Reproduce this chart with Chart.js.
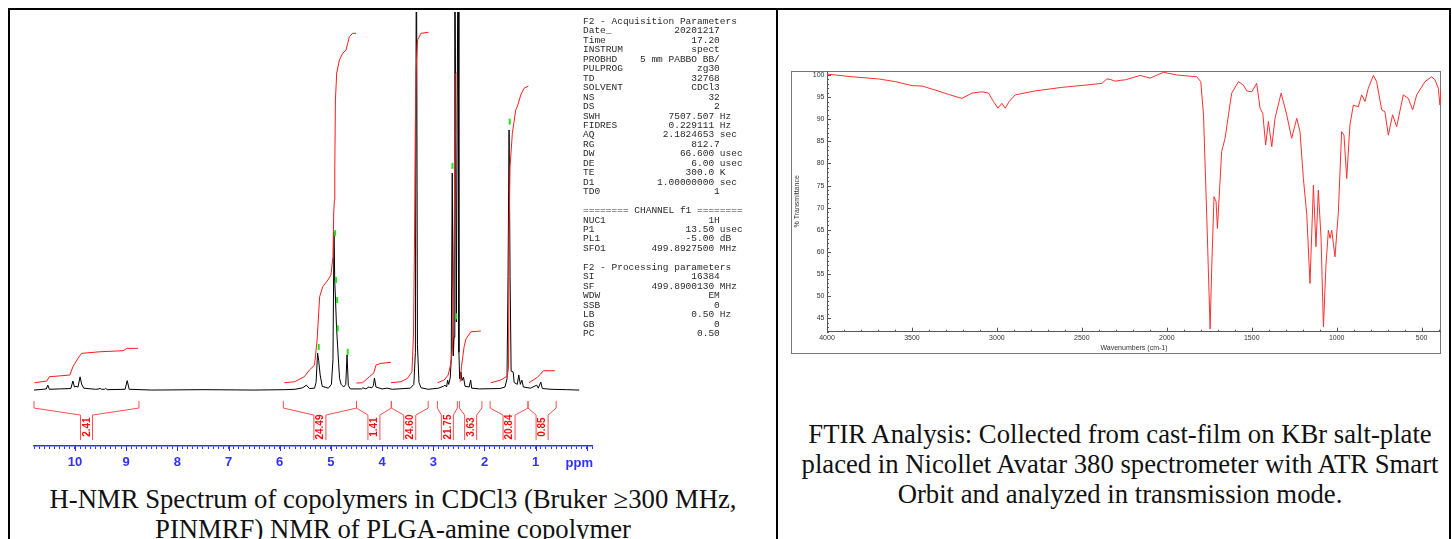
<!DOCTYPE html>
<html>
<head>
<meta charset="utf-8">
<title>PLGA-amine copolymer: 1H NMR and FTIR</title>
<script src="https://cdn.jsdelivr.net/npm/chart.js@4.4.1/dist/chart.umd.min.js"></script>
<style>
  html, body { margin: 0; padding: 0; background: #fff; }
  body { width: 1452px; height: 539px; position: relative; overflow: hidden; }
  .rule { position: absolute; background: #000; }
  #nmrChart { position: absolute; left: 20px; top: 0; }
  #params { position: absolute; left: 583px; top: 17px; margin: 0; font: 9.5px/9.45px "Liberation Mono", "Courier New", monospace; color: #2a2a2a; }
  #irFrame { position: absolute; left: 791px; top: 71px; width: 650px; height: 283px; box-sizing: border-box; border: 1px solid #777; }
  #irChart { position: absolute; left: 791px; top: 71px; }
  .cap { position: absolute; font-family: "Liberation Serif", "Times New Roman", serif; font-size: 26.7px; line-height: 30px; text-align: center; color: #111; white-space: nowrap; }
</style>
</head>
<body>
<div class="rule" style="left:8px;top:8px;width:1443px;height:2px"></div>
<div class="rule" style="left:8px;top:8px;width:2px;height:531px"></div>
<div class="rule" style="left:776px;top:8px;width:2px;height:531px"></div>
<div class="rule" style="left:1449px;top:8px;width:2px;height:531px"></div>

<canvas id="nmrChart" width="590" height="480"></canvas>
<pre id="params"></pre>

<div id="irFrame"></div>
<canvas id="irChart" width="650" height="283"></canvas>

<div class="cap" style="left:9px;width:768px;top:484px">H-NMR Spectrum of copolymers in CDCl3 (Bruker &#8805;300 MHz,<br>PINMRF) NMR of PLGA-amine copolymer</div>
<div class="cap" style="left:778px;width:684px;top:419px">FTIR Analysis: Collected from cast-film on KBr salt-plate<br>placed in Nicollet Avatar 380 spectrometer with ATR Smart<br>Orbit and analyzed in transmission mode.</div>

<script>
// ---- 1H NMR spectrum (ppm, intensity as % of plot height)
const nmrPpm = [10.80, 10.62, 10.56, 10.53, 10.50, 10.30, 10.08, 10.04, 10.01, 9.98,
  9.94, 9.90, 9.87, 9.83, 9.60, 9.53, 9.51, 9.48, 9.42, 9.40,
  9.37, 9.02, 8.98, 8.94, 8.50, 7.50, 6.50, 5.90, 5.70, 5.55,
  5.48, 5.42, 5.32, 5.29, 5.26, 5.24, 5.21, 5.17, 5.05, 4.99,
  4.96, 4.94, 4.925, 4.91, 4.89, 4.87, 4.85, 4.83, 4.80, 4.75,
  4.71, 4.685, 4.66, 4.62, 4.40, 4.375, 4.32, 4.26, 4.20, 4.17,
  4.15, 4.12, 4.00, 3.90, 3.80, 3.45, 3.38, 3.35, 3.33, 3.31,
  3.28, 3.24, 3.10, 2.90, 2.80, 2.77, 2.74, 2.72, 2.70, 2.67,
  2.65, 2.63, 2.61, 2.595, 2.58, 2.55, 2.515, 2.50, 2.485, 2.46,
  2.44, 2.41, 2.38, 2.30, 2.27, 2.25, 2.10, 1.70, 1.60, 1.56,
  1.54, 1.52, 1.50, 1.48, 1.44, 1.42, 1.36, 1.33, 1.30, 1.27,
  1.24, 1.10, 0.98, 0.95, 0.90, 0.87, 0.70, 0.40, 0.15];
const nmrInt = [0, 0.2, 0.3, 1.3, 0.2, 0.3, 0.4, 2.4, 0.8, 1.0,
  0.8, 3.5, 1.6, 0.5, 0.2, 0.3, 0.45, 0.2, 0.2, 0.45,
  0.1, 0.2, 2.5, 0.2, 0, 0.1, 0, 0.1, 0.2, 0.6,
  1.3, 0.4, 0.5, 2.0, 9.8, 7.9, 4.0, 1.0, 0.5, 1.5,
  8.0, 41.8, 28.6, 23.8, 16.4, 11.9, 7.1, 3.0, 1.5, 0.8,
  1.5, 9.3, 1.2, 0.3, 0.3, 0.6, 0.3, 0.8, 0.6, 1.2,
  3.2, 0.8, 0.3, 0.5, 0.2, 0.5, 1.5, 10, 130, 12,
  2, 0.6, 0.2, 0.5, 1.0, 1.3, 0.8, 2.6, 1.5, 3.2,
  8, 57.4, 9, 14, 130, 18, 130, 10, 3, 4.8,
  2.5, 3.4, 1.0, 0.8, 2.6, 0.5, 0.3, 0.4, 0.8, 3,
  30, 68.8, 30, 5, 4.8, 2.0, 1.5, 4.0, 1.5, 2.6,
  0.8, 0.5, 1.3, 0.5, 2.1, 0.4, 0.2, 0.1, 0];

// integral curves, one list per integrated region
const integralPpm = [
  [10.79, 10.55, 10.50, 10.10, 10.04, 10.00, 9.94, 9.87, 9.51, 9.06, 8.98, 8.77],
  [5.91, 5.71, 5.52, 5.42, 5.32, 5.27, 5.22, 5.16, 5.06, 5.00, 4.96, 4.945, 4.932, 4.924, 4.912, 4.887, 4.834, 4.770, 4.704, 4.673, 4.639, 4.575, 4.509],
  [4.503, 4.380, 4.250, 4.166, 4.119, 4.022, 3.827],
  [3.827, 3.632, 3.503, 3.417, 3.386, 3.366, 3.353, 3.333, 3.308, 3.242, 3.094],
  [2.918, 2.788, 2.710, 2.671, 2.645, 2.626, 2.593, 2.573, 2.560, 2.544],
  [2.476, 2.450, 2.398, 2.365, 2.267, 2.072],
  [1.877, 1.682, 1.553, 1.530, 1.520, 1.501, 1.456, 1.390, 1.359, 1.292, 1.228, 1.144],
  [1.131, 0.969, 0.903, 0.852, 0.624]
];
const integralVal = [
  [1.93, 2.38, 3.52, 3.97, 6.16, 7.06, 8.39, 9.71, 10.13, 10.40, 11.03, 11.03],
  [1.93, 2.20, 3.52, 5.29, 6.61, 13.23, 24.68, 27.33, 29.10, 30.42, 35.26, 46.83, 50.26, 58.99, 76.72, 83.86, 87.30, 89.07, 89.95, 91.72, 93.47, 94.37, 94.37],
  [1.85, 1.93, 3.52, 4.42, 6.61, 7.06, 7.33],
  [1.93, 2.20, 3.10, 4.84, 15.08, 41.53, 67.99, 85.53, 92.59, 94.37, 94.63],
  [1.93, 2.65, 3.97, 6.16, 8.81, 10.58, 41.53, 67.99, 83.78, 83.86],
  [2.20, 6.16, 11.46, 13.41, 15.42, 15.61],
  [1.93, 2.65, 3.70, 6.16, 41.45, 59.07, 67.91, 74.07, 74.95, 78.04, 79.81, 80.42],
  [1.93, 3.36, 4.23, 5.11, 5.11]
];

// integration ranges (ppm) and printed integral values
const intRanges = [[10.80, 8.75], [5.93, 4.50], [4.50, 3.82], [3.82, 3.10], [2.92, 2.53], [2.49, 2.05], [1.89, 1.15], [1.15, 0.60]];
const intLabels = ['2.41', '24.49', '1.41', '24.60', '21.75', '3.63', '20.84', '0.85'];

// peak-picking marks
const pickPpm = [5.238, 4.918, 4.899, 4.879, 4.867, 4.672, 2.626, 2.55, 1.507];
const pickInt = [11.4, 41.5, 29.1, 23.8, 16.3, 10.1, 59.3, 19.5, 71.0];

const nmrTickLabels = [10, 9, 8, 7, 6, 5, 4, 3, 2, 1];

// acquisition / processing parameters  [name, value, unit]
const acqParams = [
  ['Date_', '20201217'], ['Time', '17.20'], ['INSTRUM', 'spect'], ['PROBHD', '5 mm PABBO BB/'],
  ['PULPROG', 'zg30'], ['TD', '32768'], ['SOLVENT', 'CDCl3'], ['NS', '32'], ['DS', '2'],
  ['SWH', '7507.507', 'Hz'], ['FIDRES', '0.229111', 'Hz'], ['AQ', '2.1824653', 'sec'], ['RG', '812.7'],
  ['DW', '66.600', 'usec'], ['DE', '6.00', 'usec'], ['TE', '300.0', 'K'], ['D1', '1.00000000', 'sec'], ['TD0', '1']
];
const chanParams = [['NUC1', '1H'], ['P1', '13.50', 'usec'], ['PL1', '-5.00', 'dB'], ['SFO1', '499.8927500', 'MHz']];
const procParams = [['SI', '16384'], ['SF', '499.8900130', 'MHz'], ['WDW', 'EM'], ['SSB', '0'], ['LB', '0.50', 'Hz'], ['GB', '0'], ['PC', '0.50']];

// ---- FTIR (wavenumber cm-1, % transmittance)
const irWn = [4000, 3853, 3696, 3598, 3500, 3441, 3363, 3284, 3206, 3147,
  3088, 3049, 3020, 2994, 2971, 2951, 2928, 2892, 2775, 2618,
  2480, 2382, 2353, 2333, 2304, 2270, 2245, 2157, 2098, 2020,
  1941, 1824, 1800, 1784, 1765, 1745, 1735, 1722, 1710, 1702,
  1690, 1677, 1657, 1637, 1618, 1578, 1549, 1529, 1500, 1471,
  1451, 1435, 1418, 1402, 1382, 1363, 1327, 1294, 1265, 1235,
  1216, 1196, 1176, 1157, 1137, 1122, 1108, 1092, 1078, 1063,
  1049, 1039, 1029, 1010, 990, 971, 957, 941, 922, 902,
  873, 853, 833, 814, 784, 765, 735, 716, 696, 671,
  647, 608, 578, 553, 529, 480, 441, 421, 402, 392, 386];
const irT = [100.2, 99.6, 99.1, 98.5, 97.6, 97.5, 96.6, 95.6, 94.7, 95.9,
  96.2, 95.9, 94.0, 92.5, 93.6, 92.5, 94.0, 95.5, 96.4, 97.2,
  97.7, 98.1, 99.1, 99.0, 98.6, 98.8, 98.9, 99.9, 99.3, 100.6,
  100.0, 99.6, 98.5, 91.0, 68.4, 42.6, 57.0, 72.5, 71.4, 65.3,
  73.6, 82.7, 85.7, 91.0, 95.9, 98.5, 97.7, 96.4, 96.2, 98.1,
  92.5, 91.3, 84.2, 89.5, 83.8, 90.2, 95.9, 91.0, 85.7, 90.2,
  87.2, 76.6, 68.4, 52.9, 75.1, 61.2, 74.0, 63.1, 43.1, 57.0,
  64.9, 63.1, 64.9, 58.9, 69.1, 87.2, 86.4, 76.6, 88.7, 93.2,
  92.8, 95.5, 94.0, 97.0, 99.9, 98.5, 92.1, 91.7, 86.4, 91.0,
  88.3, 95.5, 94.7, 92.1, 95.5, 98.5, 99.6, 98.9, 97.0, 93.2, 96.6];
const irXLabels = [4000, 3500, 3000, 2500, 2000, 1500, 1000, 500];
const irYLabels = [100, 95, 90, 85, 80, 75, 70, 65, 60, 55, 50, 45];

// parameter block, Bruker style columns
function paramRow(p) {
  const [name, val, unit] = p;
  if (unit) return name + ' '.repeat(Math.max(1, 23 - name.length - val.length)) + val + ' ' + unit;
  return name + ' '.repeat(Math.max(1, 24 - name.length - val.length)) + val;
}
document.getElementById('params').textContent = [
  'F2 - Acquisition Parameters', ...acqParams.map(paramRow), '',
  '======== CHANNEL f1 ========', ...chanParams.map(paramRow), '',
  'F2 - Processing parameters', ...procParams.map(paramRow)
].join('\n');

const xy = (xs, ys) => xs.map((v, i) => ({x: v, y: ys[i]}));
const BLUE = '#3030ff';

const nmrExtras = {
  id: 'nmrExtras',
  afterDraw(chart) {
    const {ctx, chartArea: area, scales: {x, y}} = chart;
    const base = y.getPixelForValue(0);
    ctx.save();
    // integral brackets + values
    ctx.strokeStyle = '#ff4d4d';
    ctx.lineWidth = 1;
    intRanges.forEach((r, i) => {
      const x1 = x.getPixelForValue(r[0]), x2 = x.getPixelForValue(r[1]);
      const mid = (x1 + x2) / 2;
      ctx.beginPath();
      ctx.moveTo(x1, base + 11); ctx.lineTo(x1, base + 18);
      ctx.lineTo(mid - 6, base + 25); ctx.lineTo(mid - 6, base + 50);
      ctx.moveTo(mid + 6, base + 50); ctx.lineTo(mid + 6, base + 25);
      ctx.lineTo(x2, base + 18); ctx.lineTo(x2, base + 11);
      ctx.stroke();
      ctx.save();
      ctx.translate(mid + 0.5, base + 37);
      ctx.rotate(-Math.PI / 2);
      ctx.fillStyle = '#f01010';
      ctx.font = 'bold 10px "Liberation Sans", Arial, sans-serif';
      ctx.textAlign = 'center';
      ctx.textBaseline = 'middle';
      ctx.fillText(intLabels[i], 0, 0);
      ctx.restore();
    });
    // longer ticks at whole ppm
    ctx.strokeStyle = BLUE;
    x.ticks.forEach(t => {
      if (!nmrTickLabels.includes(t.value) && t.value !== 0) return;
      const px = Math.round(x.getPixelForValue(t.value)) + 0.5;
      ctx.beginPath(); ctx.moveTo(px, area.bottom); ctx.lineTo(px, area.bottom + 5); ctx.stroke();
    });
    ctx.fillStyle = BLUE;
    ctx.font = 'bold 13px "Liberation Sans", Arial, sans-serif';
    ctx.textAlign = 'right';
    ctx.textBaseline = 'middle';
    ctx.fillText('ppm', area.right + 1, area.bottom + 17);
    ctx.restore();
  }
};

const nmrSets = [{
  data: xy(nmrPpm, nmrInt), borderColor: '#000', borderWidth: 1, pointRadius: 0, order: 3
}];
integralPpm.forEach((p, i) => nmrSets.push({
  data: xy(p, integralVal[i]), borderColor: '#ff1a1a', borderWidth: 1, pointRadius: 0, order: 2
}));
nmrSets.push({
  data: xy(pickPpm, pickInt), showLine: false, pointStyle: 'line', rotation: 90, pointRadius: 3,
  pointBorderColor: '#22e022', pointBorderWidth: 2, order: 1
});

new Chart(document.getElementById('nmrChart'), {
  type: 'line',
  data: { datasets: nmrSets },
  options: {
    responsive: false, animation: false, events: [],
    layout: { padding: { left: 14, right: 18, top: 12, bottom: 0 } },
    plugins: { legend: { display: false }, tooltip: { enabled: false } },
    scales: {
      x: {
        type: 'linear', reverse: true, min: -0.1, max: 10.8,
        afterFit: s => { s.height = 34; s.paddingLeft = 0; s.paddingRight = 0; },
        border: { color: BLUE, width: 1.5 },
        grid: { drawOnChartArea: false, drawTicks: true, tickLength: 3, tickColor: BLUE, tickWidth: 1 },
        ticks: {
          stepSize: 0.1, autoSkip: false, maxRotation: 0, includeBounds: false, padding: 6,
          color: BLUE, font: { size: 13, weight: 'bold', family: '"Liberation Sans", Arial, sans-serif' },
          callback: v => nmrTickLabels.includes(v) ? String(v) : ''
        }
      },
      y: { display: false, min: -14.8, max: 100 }
    }
  },
  plugins: [nmrExtras]
});

// inward minor ticks on the FTIR axes
const irTicks = {
  id: 'irTicks',
  afterDraw(chart) {
    const {ctx, chartArea: a, scales: {x, y}} = chart;
    ctx.save();
    ctx.strokeStyle = '#555';
    ctx.lineWidth = 1;
    x.ticks.forEach(t => {
      const px = Math.round(x.getPixelForValue(t.value)) + 0.5;
      ctx.beginPath(); ctx.moveTo(px, a.bottom); ctx.lineTo(px, a.bottom - (irXLabels.includes(t.value) ? 4 : 2)); ctx.stroke();
    });
    y.ticks.forEach(t => {
      const py = Math.round(y.getPixelForValue(t.value)) + 0.5;
      ctx.beginPath(); ctx.moveTo(a.left, py); ctx.lineTo(a.left + (irYLabels.includes(t.value) ? 4 : 2), py); ctx.stroke();
    });
    ctx.restore();
  }
};

const smallFont = { size: 7, family: '"Liberation Sans", Arial, sans-serif' };
new Chart(document.getElementById('irChart'), {
  type: 'line',
  data: { datasets: [{ data: xy(irWn, irT), borderColor: '#ff3030', borderWidth: 1, pointRadius: 0 }] },
  options: {
    responsive: false, animation: false, events: [],
    layout: { padding: 0 },
    plugins: { legend: { display: false }, tooltip: { enabled: false } },
    scales: {
      x: {
        type: 'linear', reverse: true, min: 386, max: 4000,
        afterFit: s => { s.height = 22.3; s.paddingLeft = 0; s.paddingRight = 0; },
        border: { color: '#555', width: 1 },
        grid: { drawOnChartArea: false, drawTicks: false },
        ticks: {
          stepSize: 100, autoSkip: false, maxRotation: 0, includeBounds: false, padding: 2,
          color: '#333', font: smallFont,
          callback: v => irXLabels.includes(v) ? String(v) : ''
        },
        title: { display: true, text: 'Wavenumbers (cm-1)', color: '#333', font: smallFont, padding: { top: 0, bottom: 1.5 } }
      },
      y: {
        min: 41.98, max: 100.9,
        afterFit: s => { s.width = 36; s.paddingTop = 0; s.paddingBottom = 0; },
        border: { color: '#555', width: 1 },
        grid: { drawOnChartArea: false, drawTicks: false },
        ticks: {
          stepSize: 1, autoSkip: false, includeBounds: false, padding: 2.5,
          color: '#333', font: smallFont,
          callback: v => irYLabels.includes(v) ? String(v) : ''
        },
        title: { display: true, text: '% Transmittance', color: '#333', font: smallFont, padding: { top: 1.5, bottom: 0 } }
      }
    }
  },
  plugins: [irTicks]
});
</script>
</body>
</html>
